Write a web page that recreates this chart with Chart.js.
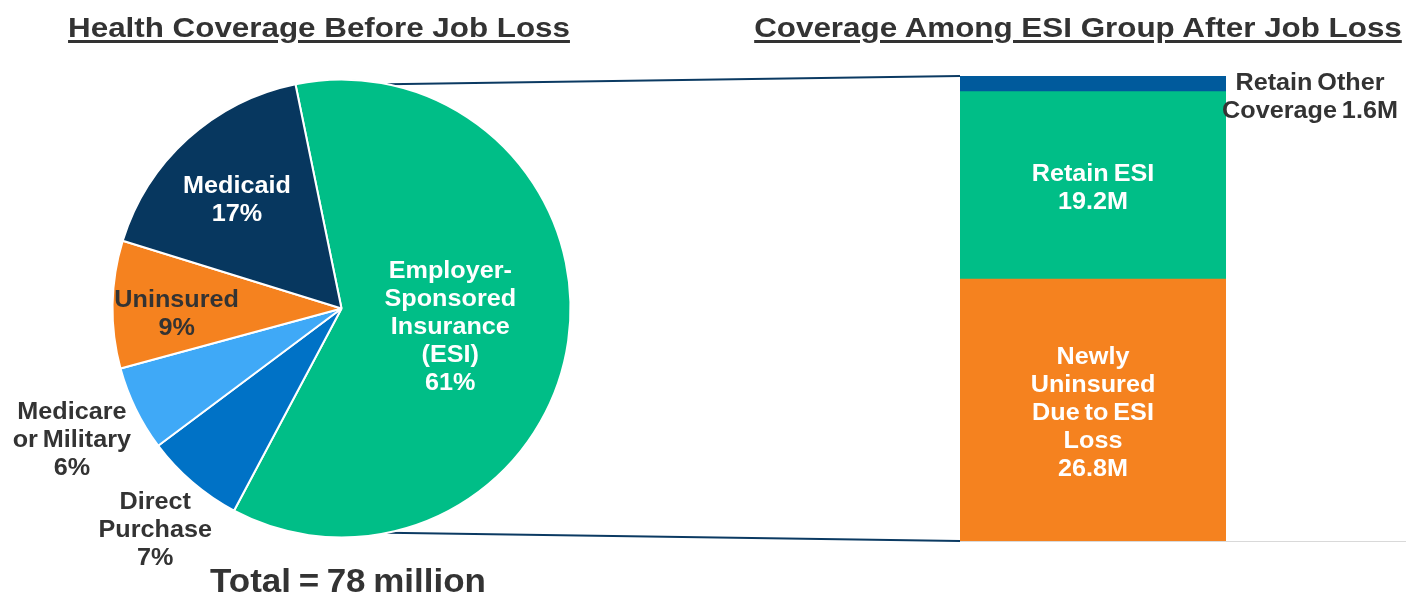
<!DOCTYPE html>
<html>
<head>
<meta charset="utf-8">
<script src="https://cdn.jsdelivr.net/npm/chart.js@4/dist/chart.umd.min.js"></script>
<style>
  html, body { margin: 0; padding: 0; background: #fff; overflow: hidden; }
  #wrap { position: relative; width: 1406px; height: 594px; }
  canvas { position: absolute; left: 0; top: 0; }
  .ttl {
    position: absolute; width: 900px; text-align: center; white-space: nowrap;
    font: bold 28px 'Liberation Sans', Arial, sans-serif; line-height: 28px; color: #333;
    text-decoration: underline; text-decoration-thickness: 3px; text-underline-offset: 3px;
    transform: scaleX(1.12);
  }
  #total {
    position: absolute; width: 600px; text-align: center; white-space: nowrap;
    font: bold 33px 'Liberation Sans', Arial, sans-serif; line-height: 33px; color: #333;
    word-spacing: -2px; transform: scaleX(1.06);
  }
</style>
</head>
<body>
<div id="wrap">
  <canvas id="bar" width="1406" height="594"></canvas>
  <canvas id="pie" width="1406" height="594"></canvas>
  <div class="ttl" style="left:-131px; top:14px;">Health Coverage Before Job Loss</div>
  <div class="ttl" style="left:628px; top:14px;">Coverage Among ESI Group After Job Loss</div>
  <div id="total" style="left:48px; top:564px;">Total = 78 million</div>
</div>
<script>
// pie: coverage before job loss (percent of 78 million)
const pieCategories = ['Employer-\nSponsored\nInsurance\n(ESI)', 'Direct\nPurchase', 'Medicare\nor Military', 'Uninsured', 'Medicaid'];
const pieValues = [61, 7, 6, 9, 17];
const pieColors = ['#00BE87', '#0072C6', '#3FA9F7', '#F5821F', '#07375F'];

// bar: ESI group after job loss (millions), bottom to top
const barCategories = ['Newly\nUninsured\nDue to ESI\nLoss', 'Retain ESI', 'Retain Other\nCoverage'];
const barValues = [26.8, 19.2, 1.6];
const barColors = ['#F5821F', '#00BE87', '#005A9C'];

const textDark = '#333333';
const stretch = 1.05;
const lineH = 28;
const textNudge = 3; // 'middle' baseline sits a little high for this font
const labelFont = "bold 24px 'Liberation Sans', Arial, sans-serif";

// where each pie label sits: fraction of the radius, plus a small vertical shift
const pieLabelPos = [0.48, 1.25, 1.31, 0.72, 0.68];
const pieLabelShift = [0, 2, -3, 6, 4];
const pieLabelColor = ['#fff', textDark, textDark, textDark, '#fff'];

function drawLines(ctx, lines, x, y) {
  const y0 = y - (lines.length - 1) * lineH / 2 + textNudge;
  lines.forEach((t, i) => {
    ctx.save();
    ctx.translate(x, y0 + i * lineH);
    ctx.scale(stretch, 1);
    ctx.fillText(t, 0, 0);
    ctx.restore();
  });
}

function setLabelFont(ctx) {
  ctx.font = labelFont;
  ctx.textAlign = 'center';
  ctx.textBaseline = 'middle';
  if ('wordSpacing' in ctx) ctx.wordSpacing = '-2px';
}

const pieLabels = {
  id: 'pieLabels',
  afterDatasetsDraw(chart) {
    const ctx = chart.ctx;
    const arcs = chart.getDatasetMeta(0).data;
    ctx.save();
    setLabelFont(ctx);
    arcs.forEach((arc, i) => {
      const mid = (arc.startAngle + arc.endAngle) / 2;
      const r = arc.outerRadius * pieLabelPos[i];
      const x = arc.x + Math.cos(mid) * r;
      const y = arc.y + Math.sin(mid) * r + pieLabelShift[i];
      ctx.fillStyle = pieLabelColor[i];
      const lines = (pieCategories[i] + '\n' + pieValues[i] + '%').split('\n');
      drawLines(ctx, lines, x, y);
    });
    ctx.restore();
  }
};

const pieChart = new Chart(document.getElementById('pie'), {
  type: 'pie',
  data: {
    labels: pieCategories,
    datasets: [{
      data: pieValues,
      backgroundColor: pieColors,
      borderColor: '#fff',
      borderWidth: 2
    }]
  },
  options: {
    responsive: false,
    animation: false,
    radius: 229,
    rotation: -11.6,
    layout: { padding: { left: 0, right: 723, top: 23, bottom: 0 } },
    plugins: { legend: { display: false }, tooltip: { enabled: false } }
  },
  plugins: [pieLabels]
});

const barExtras = {
  id: 'barExtras',
  afterDatasetsDraw(chart) {
    const ctx = chart.ctx;
    const yScale = chart.scales.y;
    const base = yScale.getPixelForValue(0);
    const topBar = chart.getDatasetMeta(barValues.length - 1).data[0];
    const left = topBar.x - topBar.width / 2;
    const right = topBar.x + topBar.width / 2;
    const top = topBar.y;

    // baseline
    ctx.save();
    ctx.strokeStyle = '#D9D9D9';
    ctx.lineWidth = 1;
    ctx.beginPath();
    ctx.moveTo(left, base + 0.5);
    ctx.lineTo(chart.width, base + 0.5);
    ctx.stroke();

    // connectors from the ESI slice to the bar
    const arc = pieChart.getDatasetMeta(0).data[0];
    const dx = arc.outerRadius * 0.2;
    const dy = Math.sqrt(arc.outerRadius * arc.outerRadius - dx * dx);
    ctx.strokeStyle = '#0B3A62';
    ctx.lineWidth = 2;
    ctx.beginPath();
    ctx.moveTo(arc.x + dx, arc.y - dy);
    ctx.lineTo(left, top);
    ctx.moveTo(arc.x + dx, arc.y + dy);
    ctx.lineTo(left, base);
    ctx.stroke();

    // segment labels
    setLabelFont(ctx);
    barValues.forEach((v, i) => {
      const el = chart.getDatasetMeta(i).data[0];
      const name = barCategories[i];
      if (i === barValues.length - 1) {
        ctx.fillStyle = textDark;
        const lines = (name + ' ' + v + 'M').split('\n');
        drawLines(ctx, lines, right + 84, el.y + 18);
      } else {
        ctx.fillStyle = '#fff';
        const lines = (name + '\n' + v + 'M').split('\n');
        drawLines(ctx, lines, el.x, (el.y + el.base) / 2);
      }
    });
    ctx.restore();
  }
};

new Chart(document.getElementById('bar'), {
  type: 'bar',
  data: {
    labels: ['ESI'],
    datasets: barValues.map((v, i) => ({
      label: barCategories[i],
      data: [v],
      backgroundColor: barColors[i],
      borderWidth: 0,
      barPercentage: 1,
      categoryPercentage: 1
    }))
  },
  options: {
    responsive: false,
    animation: false,
    layout: { padding: { left: 960, right: 180, top: 76, bottom: 53 } },
    scales: {
      x: { stacked: true, display: false },
      y: { stacked: true, display: false, min: 0, max: 47.6 }
    },
    plugins: { legend: { display: false }, tooltip: { enabled: false } }
  },
  plugins: [barExtras]
});
</script>
</body>
</html>
